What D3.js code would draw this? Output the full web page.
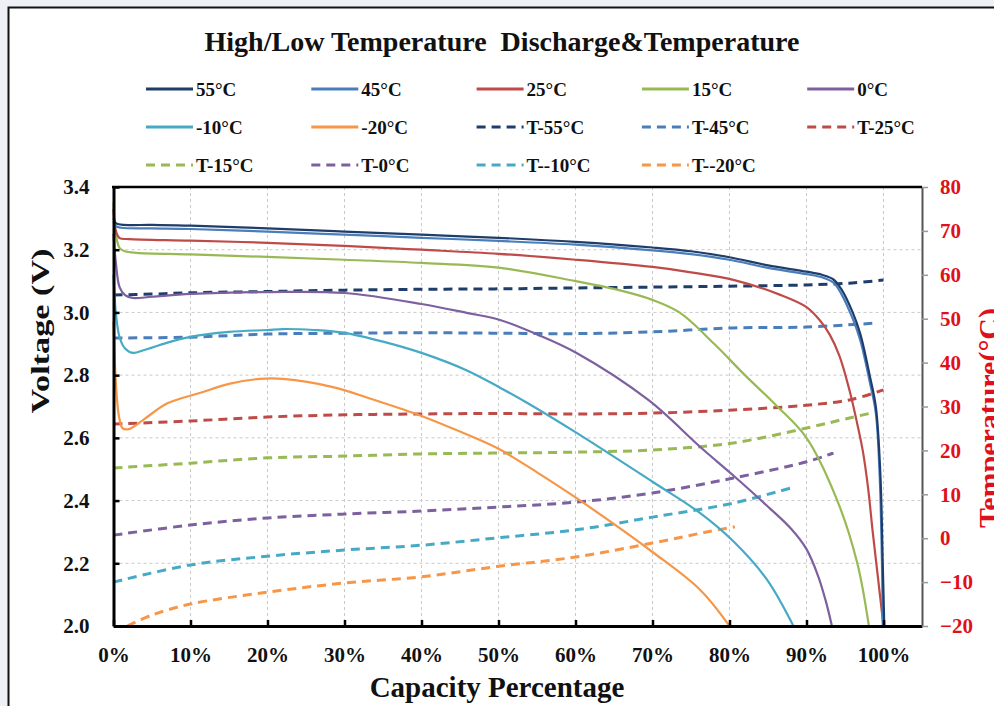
<!DOCTYPE html>
<html>
<head>
<meta charset="utf-8">
<script src="https://cdn.jsdelivr.net/npm/d3@7"></script>
<style>
  html, body { margin: 0; padding: 0; background: #eef0f5; }
  svg { display: block; }
  text { font-family: "Liberation Serif", "Times New Roman", serif; font-weight: bold; }
</style>
</head>
<body>
<div id="chart"></div>
<script>
// capacity (%) vs voltage (V), one array per temperature
var v55 = [[0,3.30],[0.3,3.285],[1,3.28],[5,3.279],[10,3.277],[20,3.268],[30,3.258],[40,3.248],[50,3.238],[60,3.225],[70,3.207],[75,3.195],[80,3.176],[85,3.150],[90,3.13],[92,3.12],[93.5,3.105],[94.5,3.075],[96,3.0],[97,2.93],[98.2,2.8],[99,2.70],[99.6,2.48],[99.9,2.2],[100.1,2.0]];
var v45 = [[0,3.29],[0.3,3.275],[1,3.27],[5,3.268],[10,3.266],[20,3.258],[30,3.248],[40,3.238],[50,3.228],[60,3.216],[70,3.198],[75,3.186],[80,3.168],[85,3.142],[90,3.122],[92,3.112],[93.5,3.095],[94.5,3.06],[96,2.98],[97,2.91],[98.2,2.78],[99,2.68],[99.5,2.48],[99.8,2.2],[99.9,2.0]];
var v25 = [[0,3.33],[0.3,3.26],[0.8,3.237],[2,3.234],[10,3.229],[20,3.222],[30,3.212],[40,3.2],[50,3.187],[60,3.168],[70,3.145],[75,3.128],[80.5,3.104],[86.6,3.056],[90,3.017],[91.7,2.976],[93,2.93],[94.3,2.86],[95.6,2.75],[96.5,2.655],[97.3,2.56],[98,2.44],[98.6,2.30],[99.3,2.15],[100,2.0]];
var v15 = [[0,3.35],[0.3,3.25],[0.8,3.205],[1.5,3.195],[3,3.19],[10,3.185],[20,3.177],[30,3.168],[40,3.158],[50,3.143],[60,3.10],[65,3.075],[70,3.04],[73.5,3.0],[78,2.90],[82,2.80],[86,2.705],[90,2.60],[94,2.40],[96.6,2.2],[98.1,2.0]];
var v0 = [[0,3.25],[0.3,3.16],[0.8,3.08],[1.5,3.055],[2.5,3.046],[5,3.05],[10,3.059],[20,3.065],[30,3.062],[40,3.027],[46,2.998],[50.2,2.976],[55,2.93],[60.2,2.87],[69.5,2.72],[76.2,2.571],[80.5,2.48],[84.8,2.385],[88,2.31],[90,2.245],[91.5,2.16],[92.5,2.08],[93.3,2.0]];
var vM10 = [[0,3.12],[0.3,3.0],[0.8,2.92],[1.5,2.885],[2.5,2.871],[4,2.88],[6.9,2.903],[10,2.922],[15,2.938],[20,2.944],[22,2.947],[26,2.944],[30,2.935],[35,2.907],[40,2.871],[45.9,2.815],[50.2,2.76],[53.7,2.712],[60.2,2.615],[70,2.46],[76.2,2.36],[80.5,2.27],[84.8,2.15],[88.3,2.0]];
var vM20 = [[0,2.97],[0.3,2.78],[0.7,2.67],[1.2,2.63],[2,2.628],[4,2.66],[7,2.71],[11.2,2.743],[15,2.772],[19,2.788],[22,2.788],[28.5,2.762],[34,2.72],[40,2.67],[45,2.62],[50,2.565],[55,2.49],[60,2.41],[70,2.236],[76.2,2.115],[80,2.0]];

// capacity (%) vs cell temperature (°C)
var t55 = [[0,55.4],[5,55.6],[10,55.9],[20,56.2],[30,56.5],[40,56.7],[50,56.8],[60,57.0],[70,57.2],[80,57.4],[90,57.7],[95.6,58.1],[100,58.8]];
var t45 = [[0,45.6],[10,45.8],[20,46.5],[30,46.7],[40,46.8],[50,46.7],[60,46.6],[70,47.0],[80.5,47.9],[90,48.1],[99,49.0]];
var t25 = [[0,26.0],[10,26.7],[20,27.6],[30,28.1],[40,28.3],[50,28.4],[60,28.3],[70,28.5],[80.5,29.2],[90,30.3],[95.6,31.5],[100,33.8]];
var t15 = [[0,16.0],[10,17.1],[20,18.3],[30,18.7],[40,19.2],[50,19.4],[60,19.6],[70,20.1],[80.5,21.7],[90,25.1],[95.6,27.4],[98.4,28.5]];
var t0 = [[0,0.7],[10,3.0],[20,4.6],[30,5.5],[40,6.2],[50,7.1],[60,8.2],[70,10.3],[80.5,13.7],[90,17.4],[93.5,19.4]];
var tM10 = [[0,-10.0],[10,-6.1],[20,-4.1],[30,-2.7],[40,-1.6],[50,0.1],[60,1.9],[70,4.8],[80.5,8.0],[88.5,11.7]];
var tM20 = [[1.8,-20],[5,-17.5],[10,-15.0],[20,-12.3],[30,-10.2],[40,-8.8],[50,-6.4],[60,-4.3],[70,-1.1],[77,1.4],[80.7,2.6]];

var legendNames = ["55°C","45°C","25°C","15°C","0°C","-10°C","-20°C",
                   "T-55°C","T-45°C","T-25°C","T-15°C","T-0°C","T--10°C","T--20°C"];
var colors = ["#1f3d6b","#4a7ebb","#be4b48","#98b954","#7d60a0","#46aac5","#f79646"];
var xTicks = [0,10,20,30,40,50,60,70,80,90,100];
var vTicks = [2.0,2.2,2.4,2.6,2.8,3.0,3.2,3.4];
var tTicks = [-20,-10,0,10,20,30,40,50,60,70,80];

var voltSeries = [v55, v45, v25, v15, v0, vM10, vM20];
var tempSeries = [t55, t45, t25, t15, t0, tM10, tM20];

var W = 994, H = 706;
var svg = d3.select("#chart").append("svg").attr("width", W).attr("height", H);

// framed white sheet
svg.append("rect").attr("x", 8.5).attr("y", 7.5).attr("width", W).attr("height", H)
  .style("fill", "#fff").style("stroke", "#111").style("stroke-width", 2);

var pL = 113.5, pR = 922, pT = 187, pB = 626;
var x = d3.scaleLinear().domain([0, 105]).range([pL, pR]);
var yV = d3.scaleLinear().domain([2.0, 3.4]).range([pB, pT]);
var yT = d3.scaleLinear().domain([-20, 80]).range([pB, pT]);

// title
svg.append("text").attr("x", 502).attr("y", 51).attr("text-anchor", "middle")
  .attr("textLength", 595).attr("lengthAdjust", "spacingAndGlyphs")
  .style("white-space", "pre")
  .style("font-size", "27px").style("fill", "#111")
  .text("High/Low Temperature  Discharge&Temperature");

// legend
var legend = svg.append("g");
legendNames.forEach(function (name, i) {
  var col = i % 5, row = Math.floor(i / 5);
  var lx = 146 + col * 165.3, ly = 89 + row * 38;
  var g = legend.append("g").attr("transform", "translate(" + lx + "," + ly + ")");
  g.append("line").attr("x1", 0).attr("x2", 47).attr("y1", 0).attr("y2", 0)
    .style("stroke", colors[i % 7]).style("stroke-width", 3)
    .style("stroke-dasharray", i < 7 ? null : "9,6");
  g.append("text").attr("x", 50).attr("y", 7).style("font-size", "19px").style("fill", "#111")
    .text(name);
});

// grid
var grid = svg.append("g");
grid.selectAll(".vg").data(xTicks.slice(1)).enter().append("line")
  .attr("x1", function (d) { return x(d); }).attr("x2", function (d) { return x(d); })
  .attr("y1", pT).attr("y2", pB)
  .style("stroke", "#c9c9c9").style("stroke-width", 1).style("stroke-dasharray", "3,3");
grid.selectAll(".hg").data(vTicks.slice(1, -1)).enter().append("line")
  .attr("x1", pL).attr("x2", pR)
  .attr("y1", function (d) { return yV(d); }).attr("y2", function (d) { return yV(d); })
  .style("stroke", "#c9c9c9").style("stroke-width", 1).style("stroke-dasharray", "3,3");

// series
var plot = svg.append("g");
var lineV = d3.line().x(function (d) { return x(d[0]); }).y(function (d) { return yV(d[1]); })
  .curve(d3.curveCatmullRom.alpha(0.5));
var lineT = d3.line().x(function (d) { return x(d[0]); }).y(function (d) { return yT(d[1]); })
  .curve(d3.curveCatmullRom.alpha(0.5));

tempSeries.forEach(function (s, i) {
  plot.append("path").attr("d", lineT(s))
    .style("fill", "none").style("stroke", colors[i]).style("stroke-width", 3)
    .style("stroke-dasharray", "9,6");
});
voltSeries.slice().reverse().forEach(function (s, j) {
  var i = voltSeries.length - 1 - j;
  plot.append("path").attr("d", lineV(s))
    .style("fill", "none").style("stroke", colors[i]).style("stroke-width", 2.2);
});

// axes
var axL = svg.append("g").attr("transform", "translate(" + pL + ",0)")
  .call(d3.axisLeft(yV).tickValues(vTicks).tickFormat(d3.format(".1f"))
    .tickSizeInner(-6).tickSizeOuter(0).tickPadding(24));
var axB = svg.append("g").attr("transform", "translate(0," + pB + ")")
  .call(d3.axisBottom(x).tickValues(xTicks).tickFormat(function (d) { return d + "%"; })
    .tickSizeInner(-6).tickSizeOuter(0).tickPadding(21));
var axR = svg.append("g").attr("transform", "translate(" + pR + ",0)")
  .call(d3.axisRight(yT).tickValues(tTicks).tickSizeInner(6).tickSizeOuter(0).tickPadding(12));

[axL, axB].forEach(function (a) {
  a.select(".domain").style("stroke", "#000").style("stroke-width", 3);
  a.selectAll(".tick line").style("stroke", "#000").style("stroke-width", 2.5);
  a.selectAll("text").style("font-size", "21px").style("fill", "#111")
    .style("font-family", "'Liberation Serif', serif").style("font-weight", "bold");
});
axR.select(".domain").style("stroke", "#555").style("stroke-width", 2);
axR.selectAll(".tick line").style("stroke", "#999").style("stroke-width", 1.5);
axR.selectAll("text").style("font-size", "21px").style("fill", "#e0101a")
  .style("font-family", "'Liberation Serif', serif").style("font-weight", "bold");

// top frame line
svg.append("line").attr("x1", pL - 1.5).attr("x2", pR).attr("y1", pT).attr("y2", pT)
  .style("stroke", "#000").style("stroke-width", 2.5);

// axis titles
svg.append("text").attr("x", 497).attr("y", 697).attr("text-anchor", "middle")
  .style("font-size", "29px").style("fill", "#111").text("Capacity Percentage");
svg.append("text").attr("transform", "translate(49,331) rotate(-90)").attr("text-anchor", "middle")
  .attr("textLength", 165).attr("lengthAdjust", "spacingAndGlyphs")
  .style("font-size", "26px").style("fill", "#111").text("Voltage (V)");
svg.append("text").attr("transform", "translate(999,418) rotate(-90)").attr("text-anchor", "middle")
  .attr("textLength", 220).attr("lengthAdjust", "spacingAndGlyphs")
  .style("font-size", "29px").style("fill", "#e0101a").text("Temperature(°C)");
</script>
</body>
</html>
